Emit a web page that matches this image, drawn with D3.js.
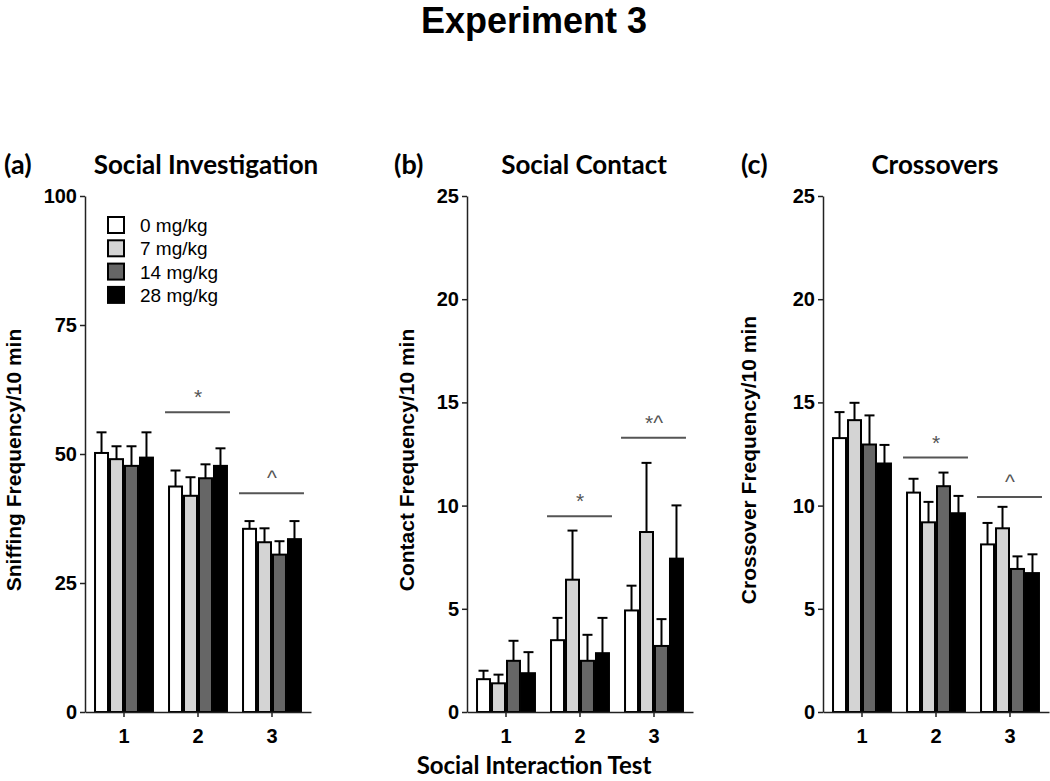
<!DOCTYPE html>
<html>
<head>
<meta charset="utf-8">
<script src="https://cdn.jsdelivr.net/npm/d3@7"></script>
<style>
  html, body { margin: 0; padding: 0; background: #fff; }
  svg { display: block; }
</style>
</head>
<body>
<svg id="chart" width="1050" height="781"></svg>
<script>
// ---------------- DATA ----------------
const tests = ["1", "2", "3"];
const doses = ["0 mg/kg", "7 mg/kg", "14 mg/kg", "28 mg/kg"];

// Social Investigation (sniffing frequency / 10 min): rows = test, cols = dose
const sniffMean = [[50.2, 49.0, 47.7, 49.3], [43.7, 41.9, 45.3, 47.7], [35.5, 32.9, 30.5, 33.5]];
const sniffSem  = [[4.0, 2.5, 3.8, 4.9], [3.1, 3.6, 2.7, 3.4], [1.5, 2.7, 2.6, 3.5]];
const sniffSig  = [{ test: "2", value: 58.1, label: "*" }, { test: "3", value: 42.4, label: "^" }];
const sniffTicks = [0, 25, 50, 75, 100];

// Social Contact (contact frequency / 10 min)
const contactMean = [[1.59, 1.39, 2.48, 1.88], [3.48, 6.41, 2.48, 2.85], [4.92, 8.72, 3.20, 7.43]];
const contactSem  = [[0.41, 0.42, 0.97, 1.02], [1.08, 2.38, 1.26, 1.71], [1.20, 3.35, 1.30, 2.58]];
const contactSig  = [{ test: "2", value: 9.48, label: "*" }, { test: "3", value: 13.29, label: "*^" }];
const contactTicks = [0, 5, 10, 15, 20, 25];

// Crossovers (crossover frequency / 10 min)
const crossMean = [[13.27, 14.14, 12.96, 12.04], [10.63, 9.19, 10.94, 9.63], [8.12, 8.90, 6.93, 6.73]];
const crossSem  = [[1.26, 0.84, 1.41, 0.90], [0.67, 0.99, 0.66, 0.84], [1.04, 1.04, 0.61, 0.91]];
const crossSig  = [{ test: "2", value: 12.33, label: "*" }, { test: "3", value: 10.42, label: "^" }];
const crossTicks = [0, 5, 10, 15, 20, 25];

// ---------------- STYLE ----------------
const doseFill = ["#ffffff", "#d4d4d4", "#666666", "#000000"];
const sansBold = "'Liberation Sans', Arial, sans-serif";
const titleFont = "Lato, 'Open Sans', sans-serif";

const svg = d3.select("#chart");
const yTop = 196, yBottom = 712;

svg.append("text")
  .attr("x", 534).attr("y", 33)
  .attr("text-anchor", "middle")
  .style("font-family", sansBold).style("font-weight", "bold").style("font-size", "36px")
  .text("Experiment 3");

const panels = [
  { letter: "(a)", title: "Social Investigation", ylabel: "Sniffing Frequency/10 min",
    mean: sniffMean, sem: sniffSem, sig: sniffSig, ticks: sniffTicks, max: 100,
    axisX: 85, letterX: 4, titleX: 206, ylabelX: 21, legend: true },
  { letter: "(b)", title: "Social Contact", ylabel: "Contact Frequency/10 min",
    mean: contactMean, sem: contactSem, sig: contactSig, ticks: contactTicks, max: 25,
    axisX: 467, letterX: 394, titleX: 584, ylabelX: 414, legend: false },
  { letter: "(c)", title: "Crossovers", ylabel: "Crossover Frequency/10 min",
    mean: crossMean, sem: crossSem, sig: crossSig, ticks: crossTicks, max: 25,
    axisX: 823, letterX: 741, titleX: 935, ylabelX: 756, legend: false }
];

panels.forEach(p => {
  const g = svg.append("g");
  const y = d3.scaleLinear().domain([0, p.max]).range([yBottom, yTop]);
  const x0 = d3.scaleBand().domain(tests).range([p.axisX, p.axisX + 226])
    .paddingInner(0.19).paddingOuter(0.122);
  const x1 = d3.scaleBand().domain(d3.range(doses.length)).range([0, x0.bandwidth()]);

  // titles
  g.append("text").attr("x", p.letterX).attr("y", 174)
    .style("font-family", titleFont).style("font-weight", "bold").style("font-size", "27px")
    .text(p.letter);
  g.append("text").attr("x", p.titleX).attr("y", 174).attr("text-anchor", "middle")
    .style("font-family", titleFont).style("font-weight", "bold").style("font-size", "26px")
    .text(p.title);

  // y label
  g.append("text")
    .attr("transform", `translate(${p.ylabelX},${460}) rotate(-90)`)
    .attr("text-anchor", "middle")
    .style("font-family", sansBold).style("font-weight", "bold").style("font-size", "21px")
    .text(p.ylabel);

  // bars
  const rows = [];
  tests.forEach((t, i) => doses.forEach((d, j) => rows.push({ t, j, m: p.mean[i][j], s: p.sem[i][j] })));

  const bg = g.append("g");
  bg.selectAll("line.err").data(rows).join("line")
    .attr("class", "err")
    .attr("x1", d => x0(d.t) + x1(d.j) + x1.bandwidth() / 2)
    .attr("x2", d => x0(d.t) + x1(d.j) + x1.bandwidth() / 2)
    .attr("y1", d => y(d.m)).attr("y2", d => y(d.m + d.s))
    .attr("stroke", "#000").attr("stroke-width", 2);
  bg.selectAll("line.cap").data(rows).join("line")
    .attr("class", "cap")
    .attr("x1", d => x0(d.t) + x1(d.j) + x1.bandwidth() / 2 - 5)
    .attr("x2", d => x0(d.t) + x1(d.j) + x1.bandwidth() / 2 + 5)
    .attr("y1", d => y(d.m + d.s)).attr("y2", d => y(d.m + d.s))
    .attr("stroke", "#000").attr("stroke-width", 2);
  bg.selectAll("rect").data(rows).join("rect")
    .attr("x", d => x0(d.t) + x1(d.j) + 1)
    .attr("y", d => y(d.m))
    .attr("width", x1.bandwidth() - 2)
    .attr("height", d => y(0) - y(d.m))
    .attr("fill", d => doseFill[d.j])
    .attr("stroke", "#000").attr("stroke-width", 2);

  // significance
  g.selectAll("line.sig").data(p.sig).join("line")
    .attr("class", "sig")
    .attr("x1", d => x0(d.test) - 3).attr("x2", d => x0(d.test) + x0.bandwidth() + 2)
    .attr("y1", d => y(d.value)).attr("y2", d => y(d.value))
    .attr("stroke", "#555").attr("stroke-width", 2);
  g.selectAll("text.sig").data(p.sig).join("text")
    .attr("class", "sig")
    .attr("x", d => x0(d.test) + x0.bandwidth() / 2)
    .attr("y", d => y(d.value) - 8)
    .attr("text-anchor", "middle")
    .attr("fill", "#555")
    .style("font-family", sansBold).style("font-size", "21px")
    .text(d => d.label);

  // axes
  const yAxis = g.append("g").attr("transform", `translate(${p.axisX},0)`)
    .call(d3.axisLeft(y).tickValues(p.ticks).tickSize(5).tickSizeOuter(0).tickPadding(3));
  const xAxis = g.append("g").attr("transform", `translate(0,${yBottom})`)
    .call(d3.axisBottom(x0).tickSize(5).tickSizeOuter(0).tickPadding(12));
  [yAxis, xAxis].forEach(a => {
    a.select(".domain").attr("stroke", "#222").attr("stroke-width", 1.5);
    a.selectAll(".tick line").attr("stroke", "#222").attr("stroke-width", 1.5);
    a.selectAll(".tick text")
      .style("font-family", sansBold).style("font-weight", "bold").style("font-size", "20px")
      .attr("fill", "#000");
  });

  // legend
  if (p.legend) {
    const lg = g.append("g").attr("transform", "translate(107,216)");
    const item = lg.selectAll("g").data(doses).join("g")
      .attr("transform", (d, i) => `translate(0,${i * 23.3})`);
    item.append("rect").attr("x", 1).attr("y", 1).attr("width", 16).attr("height", 16)
      .attr("fill", (d, i) => doseFill[i]).attr("stroke", "#000").attr("stroke-width", 2);
    item.append("text").attr("x", 33).attr("y", 16)
      .style("font-family", sansBold).style("font-size", "19px")
      .text(d => d);
  }
});

// shared x label
svg.append("text")
  .attr("x", 534).attr("y", 774).attr("text-anchor", "middle")
  .style("font-family", titleFont).style("font-weight", "bold").style("font-size", "24px")
  .text("Social Interaction Test");
</script>
</body>
</html>
